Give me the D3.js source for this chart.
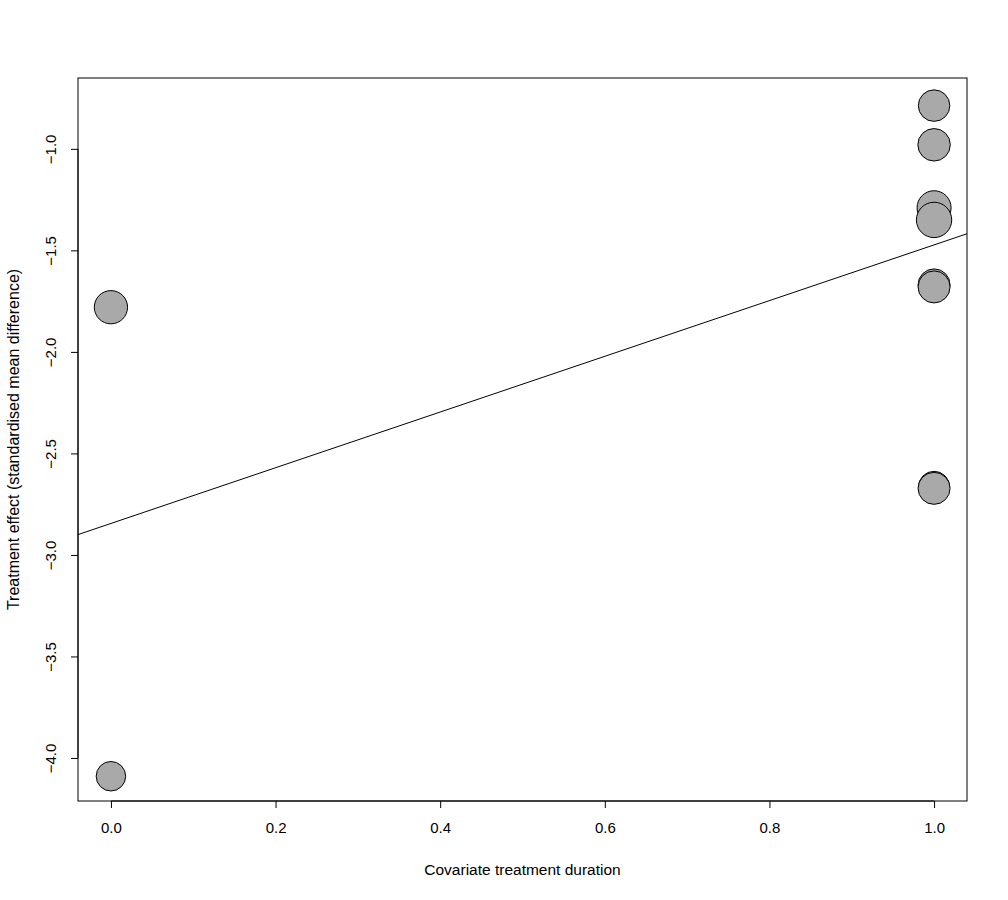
<!DOCTYPE html>
<html>
<head>
<meta charset="utf-8">
<script src="https://cdn.jsdelivr.net/npm/d3@7"></script>
<style>
  body { margin: 0; background: #fff; }
  svg text { font-family: "Liberation Sans", Arial, sans-serif; fill: #000; }
</style>
</head>
<body>
<div id="vis"></div>
<script>
// study-level covariate, effect size and weight (bubble size)
var duration = [0, 0, 1, 1, 1, 1, 1, 1, 1, 1];
var effect   = [-1.78, -4.09, -0.787, -0.98, -1.29, -1.35, -1.67, -1.68, -2.665, -2.672];
var weight   = [1.08, 0.85, 0.97, 1.03, 1.13, 1.22, 1.0, 1.0, 0.95, 1.0];

var xTicks = [0, 0.2, 0.4, 0.6, 0.8, 1.0];
var yTicks = [-1.0, -1.5, -2.0, -2.5, -3.0, -3.5, -4.0];

// fitted meta-regression line
var intercept = -2.845, slope = 1.372;

var width = 1008, height = 900;
var margin = {top: 78, right: 41, bottom: 99, left: 78};
var plotW = width - margin.left - margin.right,
    plotH = height - margin.top - margin.bottom;

var svg = d3.select("#vis").append("svg")
    .attr("width", width)
    .attr("height", height);

var x = d3.scaleLinear().domain([-0.04, 1.04]).range([0, plotW]);
var y = d3.scaleLinear().domain([-4.212, -0.651]).range([plotH, 0]);
var r = d3.scaleSqrt().domain([0, 1]).range([0, 16]);

var graph = svg.append("g")
    .attr("transform", "translate(" + margin.left + "," + margin.top + ")");

// x axis
var xAxis = graph.append("g")
    .attr("transform", "translate(0," + plotH + ")")
    .call(d3.axisBottom(x).tickValues(xTicks).tickFormat(d3.format(".1f")).tickSize(7).tickPadding(14));
xAxis.select(".domain").attr("d", "M" + x(0) + ",0H" + x(1));
xAxis.selectAll("text").style("font-size", "15px");

// y axis
var yAxis = graph.append("g")
    .call(d3.axisLeft(y).tickValues(yTicks).tickFormat(d3.format(".1f")).tickSize(7).tickPadding(0));
yAxis.select(".domain").attr("d", "M0," + y(-1) + "V" + y(-4));
yAxis.selectAll("text")
    .style("font-size", "15px")
    .attr("text-anchor", "middle")
    .attr("x", 0).attr("dy", 0)
    .attr("transform", "translate(-22,0) rotate(-90)");

graph.selectAll(".axis line, .domain").attr("stroke", "#000");

// plot box
graph.append("rect")
    .attr("width", plotW).attr("height", plotH)
    .attr("fill", "none").attr("stroke", "#000");

// regression line
graph.append("clipPath").attr("id", "clip")
    .append("rect").attr("width", plotW).attr("height", plotH);

graph.append("line")
    .attr("clip-path", "url(#clip)")
    .attr("x1", x(-0.04)).attr("y1", y(intercept + slope * -0.04))
    .attr("x2", x(1.04)).attr("y2", y(intercept + slope * 1.04))
    .attr("stroke", "#000").attr("stroke-width", 1);

// bubbles
var pts = duration.map(function(d, i) { return {x: d, y: effect[i], w: weight[i]}; });
graph.selectAll(".pt")
    .data(pts)
    .enter().append("circle")
    .attr("class", "pt")
    .attr("cx", function(d) { return x(d.x); })
    .attr("cy", function(d) { return y(d.y); })
    .attr("r", function(d) { return r(d.w); })
    .attr("fill", "#a9a9a9")
    .attr("stroke", "#000");

// axis titles
svg.append("text")
    .attr("x", margin.left + x(0.5))
    .attr("y", 875)
    .attr("text-anchor", "middle")
    .style("font-size", "15.5px")
    .text("Covariate treatment duration");

svg.append("text")
    .attr("transform", "translate(19," + (margin.top + plotH / 2) + ") rotate(-90)")
    .attr("text-anchor", "middle")
    .style("font-size", "16px")
    .text("Treatment effect (standardised mean difference)");
</script>
</body>
</html>
